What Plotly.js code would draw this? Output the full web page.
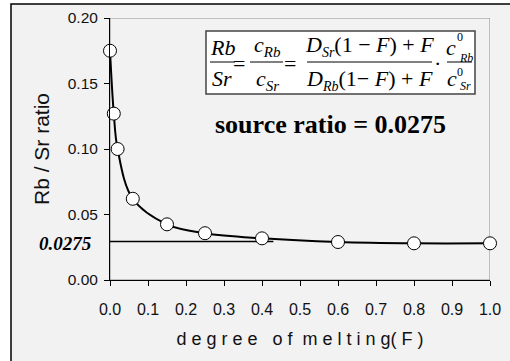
<!DOCTYPE html>
<html>
<head>
<meta charset="utf-8">
<script src="https://cdn.plot.ly/plotly-3.0.1.min.js"></script>
<style>html,body{margin:0;padding:0;background:#fff;}#chart{width:510px;height:361px;}</style>
</head>
<body>
<div id="chart"></div>
<script>
// ---- data ----
const meltF = [0, 0.01, 0.02, 0.06, 0.15, 0.25, 0.4, 0.6, 0.8, 1.0];
const rbSrRatio = [0.175, 0.127, 0.100, 0.062, 0.0425, 0.0357, 0.0318, 0.029, 0.028, 0.028];
const sourceF = [0, 0.43];
const sourceRatio = [0.0293, 0.0293];
const sourceLabel = '0.0275';
const xTicks = [0, 0.1, 0.2, 0.3, 0.4, 0.5, 0.6, 0.7, 0.8, 0.9, 1.0];
const yTicks = [0, 0.05, 0.10, 0.15, 0.20];

// ---- layout helpers (pixel -> paper) ----
const L = 110, R = 490, T = 18, B = 280;
const PX = p => (p - L) / (R - L);
const PY = p => (B - p) / (B - T);
const SERIF = 'Liberation Serif, Times New Roman, serif';
const SANS = 'Liberation Sans, Arial, sans-serif';
const NB = '\u00a0';

function ann(text, px, py, size, extra) {
  return Object.assign({
    xref: 'paper', yref: 'paper', x: PX(px), y: PY(py), text: text,
    showarrow: false, xanchor: 'center', yanchor: 'middle',
    font: {family: SERIF, size: size, color: '#000'}, borderpad: 1
  }, extra || {});
}
function hline(x0, x1, y, w, c) {
  return {type: 'line', xref: 'paper', yref: 'paper', x0: PX(x0), x1: PX(x1), y0: PY(y), y1: PY(y),
          line: {color: c || '#000', width: w || 1}};
}
const sb = (t, s) => '<sub><span style="font-size:' + s + 'px"><i>' + t + '</i></span></sub>';

const FS = 22;
const barY = 62;
const num = (t, px, sz) => ann(t, px, barY, sz || FS, {yanchor: 'bottom'});
const den = (t, px, sz) => ann(t, px, barY, sz || FS, {yanchor: 'top', yshift: -2});

const xTitle = ['d','e','g','r','e','e'].join(NB) + NB+NB+NB + ['o','f'].join(NB) + NB+NB +
  ['m','e','l','t','i','n','g'].join(NB) + '(' + NB + 'F' + NB + ')';

const annotations = [
  // fraction 1
  num('<i>Rb</i>', 222), den('<i>Sr</i>', 222),
  ann('=', 239, 64, FS),
  // fraction 2
  num('<i>c</i>' + sb('Rb', 15), 267), den('<i>c</i>' + sb('Sr', 15), 267),
  ann('=', 290, 64, FS),
  // fraction 3
  num('<i>D</i>' + sb('Sr', 14) + '(1 \u2212 <i>F</i>) + <i>F</i>', 369),
  den('<i>D</i>' + sb('Rb', 14) + '(1\u2212 <i>F</i>) + <i>F</i>', 369),
  ann('\u00b7', 437, 64, FS),
  // fraction 4
  num('<i>c</i>', 451), den('<i>c</i>', 452),
  ann('0', 460, 37, 12), ann('<i>Rb</i>', 466, 58, 12),
  ann('0', 460, 72, 12), ann('<i>Sr</i>', 465, 86, 12),
  // source ratio text
  ann('<b>source ratio = 0.0275</b>', 330, 125, 26),
  // left label
  ann('<b><i>' + sourceLabel + '</i></b>', 65, 243, 19)
];

const shapes = [
  // outer frame
  {type: 'rect', xref: 'paper', yref: 'paper', x0: PX(11), x1: PX(530), y0: PY(4), y1: PY(380),
   fillcolor: '#f2f2f2', line: {color: '#000', width: 1.5}, layer: 'below'},
  // plot area border (gray)
  {type: 'rect', xref: 'x', yref: 'y', x0: 0, x1: 1, y0: 0, y1: 0.2,
   line: {color: '#8c8c8c', width: 1}, layer: 'below'},
  // formula box
  {type: 'rect', xref: 'paper', yref: 'paper', x0: PX(206), x1: PX(475), y0: PY(31), y1: PY(94),
   fillcolor: '#fff', line: {color: '#444', width: 1.5}, layer: 'above'},
  hline(210, 235, barY, 1), hline(250, 283, barY, 1), hline(307, 432, barY, 1), hline(447, 472, barY, 1)
];

const traces = [
  {x: sourceF, y: sourceRatio, mode: 'lines', line: {color: '#000', width: 1.5}, hoverinfo: 'skip', cliponaxis: false},
  {x: meltF, y: rbSrRatio, mode: 'lines+markers',
   line: {color: '#000', width: 2, shape: 'spline', smoothing: 1},
   marker: {size: 13, color: '#fff', line: {color: '#000', width: 1}}, cliponaxis: false}
];

const layout = {
  width: 510, height: 361,
  margin: {l: L, r: 510 - R, t: T, b: 361 - B, pad: 0},
  paper_bgcolor: '#fff', plot_bgcolor: '#fff',
  showlegend: false,
  font: {family: SANS, color: '#000'},
  xaxis: {
    range: [0, 1], tickvals: xTicks, tickformat: '.1f', ticks: 'outside', ticklen: 5, tickcolor: '#000',
    showline: true, linecolor: '#000', linewidth: 1, showgrid: false, zeroline: false,
    tickfont: {family: SANS, size: 16, color: '#111'}, ticklabelstandoff: 10,
    title: {text: xTitle, font: {family: SANS, size: 18, color: '#111'}, standoff: 15}
  },
  yaxis: {
    range: [0, 0.2], tickvals: yTicks, tickformat: '.2f', ticks: 'outside', ticklen: 5, tickcolor: '#000',
    showline: true, linecolor: '#000', linewidth: 1, showgrid: false, zeroline: false,
    tickfont: {family: SANS, size: 15.5, color: '#111'}, ticklabelstandoff: 3,
    title: {text: 'Rb / Sr ratio', font: {family: SANS, size: 21, color: '#111'}, standoff: 12}
  },
  annotations: annotations,
  shapes: shapes
};

Plotly.newPlot('chart', traces, layout, {staticPlot: true, displayModeBar: false});
</script>
</body>
</html>
